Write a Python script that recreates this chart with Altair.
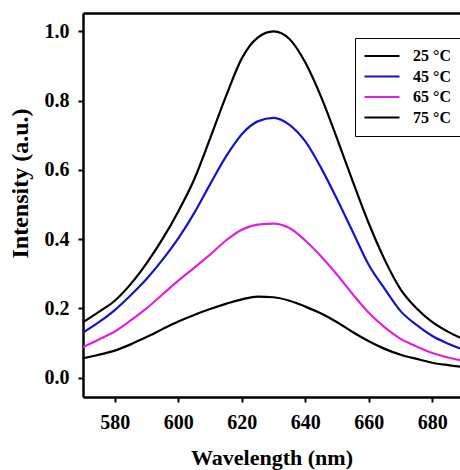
import altair as alt
import pandas as pd

wavelength = [570, 575, 580, 585, 590, 595, 600, 605, 610, 615, 620, 625, 630,
              635, 640, 645, 650, 655, 660, 665, 670, 675, 680, 685, 690]
i_25 = [0.160, 0.190, 0.222, 0.270, 0.330, 0.400, 0.480, 0.572, 0.690, 0.812, 0.922, 0.982, 1.000,
        0.978, 0.910, 0.810, 0.690, 0.565, 0.445, 0.340, 0.255, 0.200, 0.160, 0.132, 0.110]
i_45 = [0.130, 0.160, 0.195, 0.238, 0.285, 0.340, 0.402, 0.475, 0.558, 0.638, 0.703, 0.740, 0.750,
        0.730, 0.682, 0.605, 0.515, 0.420, 0.325, 0.256, 0.192, 0.152, 0.120, 0.098, 0.080]
i_65 = [0.088, 0.110, 0.133, 0.165, 0.200, 0.240, 0.280, 0.317, 0.355, 0.396, 0.427, 0.442, 0.445,
        0.432, 0.396, 0.350, 0.297, 0.240, 0.187, 0.145, 0.112, 0.090, 0.071, 0.058, 0.048]
i_75 = [0.056, 0.066, 0.078, 0.096, 0.117, 0.140, 0.162, 0.181, 0.198, 0.213, 0.226, 0.234, 0.232,
        0.222, 0.205, 0.185, 0.160, 0.131, 0.105, 0.083, 0.066, 0.054, 0.043, 0.036, 0.030]

labels = ["25 \u00b0C", "45 \u00b0C", "65 \u00b0C", "75 \u00b0C"]
colors = ["#000000", "#1414c8", "#e020e0", "#000000"]
x_ticks = [580, 600, 620, 640, 660, 680]
y_ticks = [0.0, 0.2, 0.4, 0.6, 0.8, 1.0]

rows = []
for lab, series in zip(labels, [i_25, i_45, i_65, i_75]):
    for w, v in zip(wavelength, series):
        rows.append({"wavelength": w, "intensity": v, "series": lab})
df = pd.DataFrame(rows)

FONT = "Liberation Serif"
xscale = alt.Scale(domain=[570, 688.7], nice=False, zero=False)
yscale = alt.Scale(domain=[-0.056, 1.053], nice=False, zero=False)

lines = alt.Chart(df).mark_line(strokeWidth=2.2, clip=True, interpolate="monotone").encode(
    x=alt.X("wavelength:Q", scale=xscale,
            axis=alt.Axis(title="Wavelength (nm)", values=x_ticks, format="d",
                          orient="bottom", labelPadding=10, titlePadding=15,
                          titleFontSize=22)),
    y=alt.Y("intensity:Q", scale=yscale,
            axis=alt.Axis(title="Intensity (a.u.)", values=y_ticks, format=".1f",
                          labelPadding=9, titlePadding=12, titleFontSize=24,
                          titleY=170)),
    color=alt.Color("series:N", sort=labels,
                    scale=alt.Scale(domain=labels, range=colors),
                    legend=alt.Legend(title=None, orient="none", legendX=272, legendY=25,
                                      symbolType="M-1.55,0L4.82,0", symbolSize=121,
                                      symbolStrokeWidth=2.2, rowPadding=4.5,
                                      labelFont=FONT, labelFontWeight="bold",
                                      labelFontSize=16, labelColor="black",
                                      labelOffset=32, padding=10,
                                      strokeColor="black", fillColor="white")),
    detail="series:N",
)

top = alt.Chart(df).mark_line(opacity=0).encode(
    x=alt.X("wavelength:Q", scale=xscale,
            axis=alt.Axis(title=None, orient="top", labels=False, ticks=False)),
    y=alt.Y("intensity:Q", scale=yscale),
)

chart = alt.layer(lines, top).resolve_axis(x="independent").properties(
    width=377, height=384, background="white",
    padding={"left": 83, "top": 13, "right": 0, "bottom": 73},
    autosize=alt.AutoSizeParams(type="none"),
).configure_view(stroke=None).configure_axis(
    grid=False, domainColor="black", domainWidth=2.5, tickColor="black",
    tickWidth=2, tickSize=5, labelFont=FONT, labelFontWeight="bold",
    labelFontSize=20, labelColor="black", titleFont=FONT, titleFontWeight="bold",
    titleColor="black",
)

chart.save("out.html", embed_options={"renderer": "svg", "actions": False})
